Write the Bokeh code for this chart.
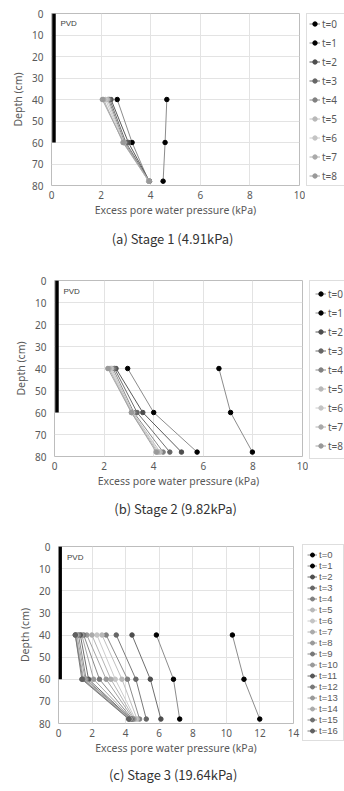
from bokeh.plotting import figure
from bokeh.layouts import column, row
from bokeh.models import Range1d, Legend, LegendItem, Title, FixedTicker
from bokeh.embed import file_html
from bokeh.resources import INLINE

# Measurement depths (cm) of the piezometers
depths = [40, 60, 78]

# PVD drain drawn as a thick bar along the left edge
pvd_depth = [0, 60]
pvd_pos = 0.1

# Excess pore water pressure (kPa) at 40 / 60 / 78 cm, one row per time step
stage1_labels = [f"t={i}" for i in range(9)]
stage1_values = [
    [4.65, 4.58, 4.50],
    [2.65, 3.25, 3.92],
    [2.40, 3.10, 3.95],
    [2.35, 3.00, 3.95],
    [2.30, 2.95, 3.93],
    [2.25, 2.92, 3.92],
    [2.18, 2.90, 3.92],
    [2.10, 2.88, 3.92],
    [2.05, 2.90, 3.95],
]

stage2_labels = [f"t={i}" for i in range(9)]
stage2_values = [
    [6.63, 7.10, 7.98],
    [2.95, 4.00, 5.75],
    [2.48, 3.56, 5.12],
    [2.42, 3.33, 4.65],
    [2.36, 3.20, 4.38],
    [2.30, 3.15, 4.26],
    [2.25, 3.12, 4.20],
    [2.20, 3.10, 4.15],
    [2.15, 3.10, 4.10],
]

stage3_labels = [f"t={i}" for i in range(17)]
stage3_values = [
    [10.36, 11.05, 11.99],
    [5.83, 6.85, 7.22],
    [4.38, 5.47, 6.10],
    [3.44, 4.61, 5.23],
    [2.84, 4.11, 4.83],
    [2.59, 3.78, 4.68],
    [2.29, 3.38, 4.58],
    [1.99, 3.12, 4.52],
    [1.69, 2.84, 4.46],
    [1.50, 2.44, 4.40],
    [1.39, 2.09, 4.36],
    [1.30, 1.79, 4.32],
    [1.19, 1.65, 4.30],
    [1.10, 1.59, 4.27],
    [1.05, 1.50, 4.24],
    [1.00, 1.45, 4.21],
    [1.00, 1.39, 4.18],
]

x_max = [10, 10, 14]
captions = ["(a)  Stage 1  (4.91kPa)", "(b)  Stage 2  (9.82kPa)", "(c)  Stage 3  (19.64kPa)"]

marker9 = ["#000000", "#000000", "#4d4d4d", "#666666", "#808080",
           "#b8b8b8", "#c4c4c4", "#aaaaaa", "#999999"]
line9 = ["#8c8c8c", "#8c8c8c", "#595959", "#6e6e6e", "#8a8a8a",
         "#c0c0c0", "#cccccc", "#b4b4b4", "#a4a4a4"]
marker17 = ["#000000", "#000000", "#4d4d4d", "#666666", "#808080",
            "#b8b8b8", "#c4c4c4", "#aaaaaa", "#999999", "#777777",
            "#999999", "#555555", "#777777", "#999999", "#aaaaaa",
            "#6f6f6f", "#606060"]
line17 = ["#8c8c8c", "#8c8c8c", "#6e6e6e", "#7a7a7a", "#8c8c8c",
          "#c0c0c0", "#cccccc", "#b4b4b4", "#a4a4a4", "#8a8a8a",
          "#a4a4a4", "#6e6e6e", "#8a8a8a", "#a4a4a4", "#b4b4b4",
          "#8a8a8a", "#7a7a7a"]

FONT = "Noto Sans"
LEG_FONT_C = "Liberation Sans"
CAP_FONT = "Noto Sans CJK KR"
GRID = "#e3e3e3"
EDGE = "#bdbdbd"
TXT = "#595959"


def make_panel(values, labels, mcolors, lcolors, xmax, caption,
               left, frame_w, right, top, frame_h, height,
               leg_top, leg_h, leg_item, leg_spacing, leg_font, leg_family,
               glyph_w, cap_standoff):
    width = left + frame_w + right
    p = figure(width=width, height=height,
               x_range=Range1d(0, xmax), y_range=Range1d(80, 0),
               min_border_left=left, min_border_top=top,
               min_border_right=right, min_border_bottom=height - top - frame_h,
               frame_align=False,
               output_backend="svg", toolbar_location=None)
    p.background_fill_color = "white"
    p.border_fill_color = "white"
    p.outline_line_color = EDGE
    p.outline_line_width = 1

    p.xaxis.ticker = FixedTicker(ticks=list(range(0, xmax + 1, 2)))
    p.yaxis.ticker = FixedTicker(ticks=list(range(0, 81, 10)))
    for ax in (p.xaxis, p.yaxis):
        ax.axis_line_color = None
        ax.major_tick_line_color = None
        ax.minor_tick_line_color = None
        ax.major_tick_out = 0
        ax.major_tick_in = 0
        ax.minor_tick_out = 0
        ax.minor_tick_in = 0
        ax.major_label_text_font = FONT
        ax.major_label_text_font_size = "10px"
        ax.major_label_text_color = TXT
        ax.axis_label_text_font = FONT
        ax.axis_label_text_font_size = "10.5px"
        ax.axis_label_text_font_style = "normal"
        ax.axis_label_text_color = TXT
    p.xaxis.major_label_standoff = 5
    p.yaxis.major_label_standoff = 8
    p.xaxis.axis_label = "Excess pore water pressure (kPa)"
    p.yaxis.axis_label = "Depth (cm)"
    p.xaxis.axis_label_standoff = 1
    p.yaxis.axis_label_standoff = 4
    p.xgrid.grid_line_color = GRID
    p.ygrid.grid_line_color = GRID

    # drain
    p.line([pvd_pos, pvd_pos], pvd_depth, line_width=3.5, line_color="black")
    p.text([0.036 * xmax], [4.8], text=["PVD"],
           text_font_size="8px", text_color="#404040",
           text_baseline="middle", text_align="left")

    for vals, mc, lc in zip(values, mcolors, lcolors):
        p.line(vals, depths, line_color=lc, line_width=1)
        p.scatter(vals, depths, marker="circle", size=4.5,
                  fill_color=mc, line_color=mc)

    cap = Title(text=caption, align="center", text_font=CAP_FONT,
                text_font_size="13px", text_font_style="normal",
                text_color="#333333", standoff=cap_standoff)
    p.add_layout(cap, "below")

    # legend strip to the right of the chart; its frame holds the legend box.
    # The series are repeated here only to give the legend its glyph styles; the
    # strip's range lies away from the data so nothing is drawn inside it.
    lw = 344 - width
    q_top = leg_top - 1
    q_h = leg_h + 8
    q = figure(width=lw, height=height, x_range=Range1d(-20, -10), y_range=Range1d(0, 1),
               x_axis_type=None, y_axis_type=None,
               min_border_left=0, min_border_right=0, min_border_top=q_top,
               min_border_bottom=height - q_top - q_h,
               frame_align=False,
               output_backend="svg", toolbar_location=None)
    q.outline_line_color = None
    q.grid.visible = False
    q.background_fill_color = "white"
    q.border_fill_color = "white"
    items = []
    for vals, lab, mc, lc in zip(values, labels, mcolors, lcolors):
        ln = q.line(vals, depths, line_color=lc, line_width=1)
        sc = q.scatter(vals, depths, marker="circle", size=4, fill_color=mc, line_color=mc)
        items.append(LegendItem(label=lab, renderers=[ln, sc]))
    n = len(labels)
    pad = max(0, (leg_h - n * leg_item - (n - 1) * leg_spacing) // 2)
    leg = Legend(items=items, location="top_left",
                 glyph_width=glyph_w, glyph_height=leg_item, label_height=leg_item,
                 spacing=leg_spacing, padding=pad, margin=1,
                 label_standoff=2, label_text_font=leg_family,
                 label_text_font_size=leg_font, label_text_color=TXT,
                 border_line_color=EDGE, border_line_width=1,
                 background_fill_color="white")
    q.add_layout(leg, "center")
    return row(p, q, spacing=0)


pa = make_panel(stage1_values, stage1_labels, marker9, line9, x_max[0], captions[0],
                left=51, frame_w=248, right=6, top=13, frame_h=172, height=262,
                leg_top=13, leg_h=172, leg_item=15, leg_spacing=4,
                leg_font="10px", leg_family=FONT, glyph_w=11, cap_standoff=14)
pb = make_panel(stage2_values, stage2_labels, marker9, line9, x_max[1], captions[1],
                left=54, frame_w=248, right=6, top=18, frame_h=176, height=263,
                leg_top=18, leg_h=177, leg_item=15, leg_spacing=4,
                leg_font="10px", leg_family=FONT, glyph_w=11, cap_standoff=12)
pc = make_panel(stage3_values, stage3_labels, marker17, line17, x_max[2], captions[2],
                left=58, frame_w=235, right=8, top=21, frame_h=177, height=266,
                leg_top=19, leg_h=196, leg_item=11, leg_spacing=0,
                leg_font="9.5px", leg_family=LEG_FONT_C, glyph_w=10, cap_standoff=11)

layout = column(pa, pb, pc, spacing=0)
open("out.html", "w").write(file_html(layout, INLINE))
